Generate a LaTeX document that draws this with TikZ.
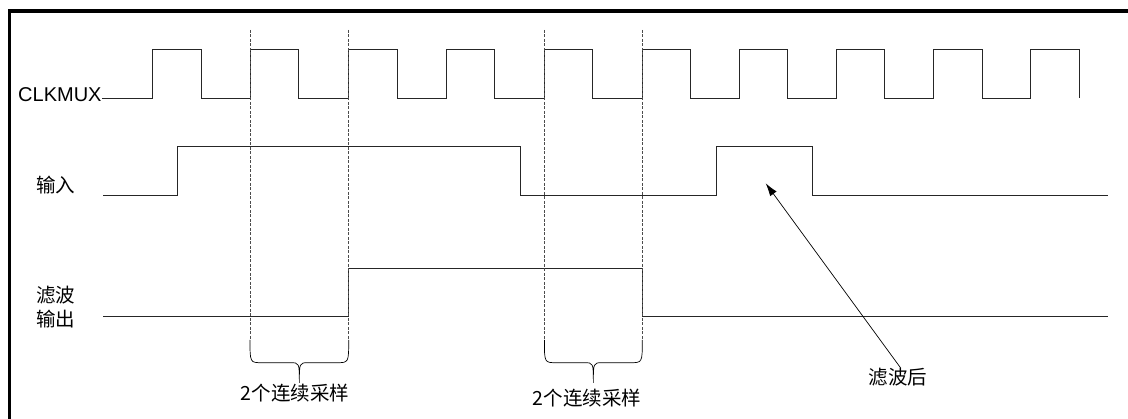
\documentclass[tikz,border=0pt]{standalone}
\usepackage{fontspec}
\setmainfont{Liberation Sans}
\newfontfamily\cjk{Noto Sans CJK SC}
\usetikzlibrary{arrows.meta}
\begin{document}
\begin{tikzpicture}[x=1pt, y=-1pt, >={Latex[length=13pt,width=8pt]},
		wave/.style={line width=0.9pt, black!85},
		guide/.style={line width=0.8pt, black!70, dash pattern=on 3pt off 1.5pt},
		lbl/.style={font=\cjk\fontsize{19.5}{24}\selectfont, inner sep=0pt}]
		\useasboundingbox (0,0) rectangle (1128,419);
		% frame
		\draw[line width=3.5pt] (9.5,430) -- (9.5,11) -- (1135,11);
		% labels
		\node[anchor=base west, inner sep=0pt, font=\fontsize{20}{24}\selectfont] (clk) at (18,102) {CLKMUX};
		\node[lbl] (din) at (55.5,185) {输入};
		\node[lbl, align=left] (dout) at (55.5,307.5) {滤波\\输出};
		\node[lbl] (samp1) at (295,393) {2个连续采样};
		\node[lbl] (samp2) at (587,398) {2个连续采样};
		\node[lbl] (after) at (898,377) {滤波后};
		% clock
		\draw[wave] (clk.east |- 0,98)
			foreach \r in {152.7,250,348.7,446,544.4,642.3,739.3,836.3,933.7,1030.7} {
				-- (\r,98) |- ++(48.5,-49) -- ++(0,49)
			};
		% input and filtered output
		\draw[wave] (103,195) -| (177,146) -| (520,195) -| (716,146) -| (812,195) -- (1108,195);
		\draw[wave] (103,316.7) -| (348.7,268.3) -| (642.3,316.7) -- (1108,316.7);
		% sampling windows
		\foreach \a/\b in {250/348.7, 544.4/642.3} {
				\draw[guide] (\a,30) -- (\a,340);
				\draw[guide] (\b,30) -- (\b,340);
				\pgfmathsetmacro{\m}{(\a+\b)/2}
				\draw[line width=0.7pt] (\a,340) .. controls (\a,362.7) .. (\a+12,362.7) -- (\m-9,362.7)
					.. controls (\m,362.7) .. (\m,383)
					.. controls (\m,362.7) .. (\m+9,362.7) -- (\b-12,362.7) .. controls (\b,362.7) .. (\b,340);
			}
		% pointer to the removed pulse
		\coordinate (pulse) at (765.7,183.3);
		\draw[->, line width=0.7pt] ([xshift=2.5pt]after.north) -- (pulse);
	\end{tikzpicture}
\end{document}
